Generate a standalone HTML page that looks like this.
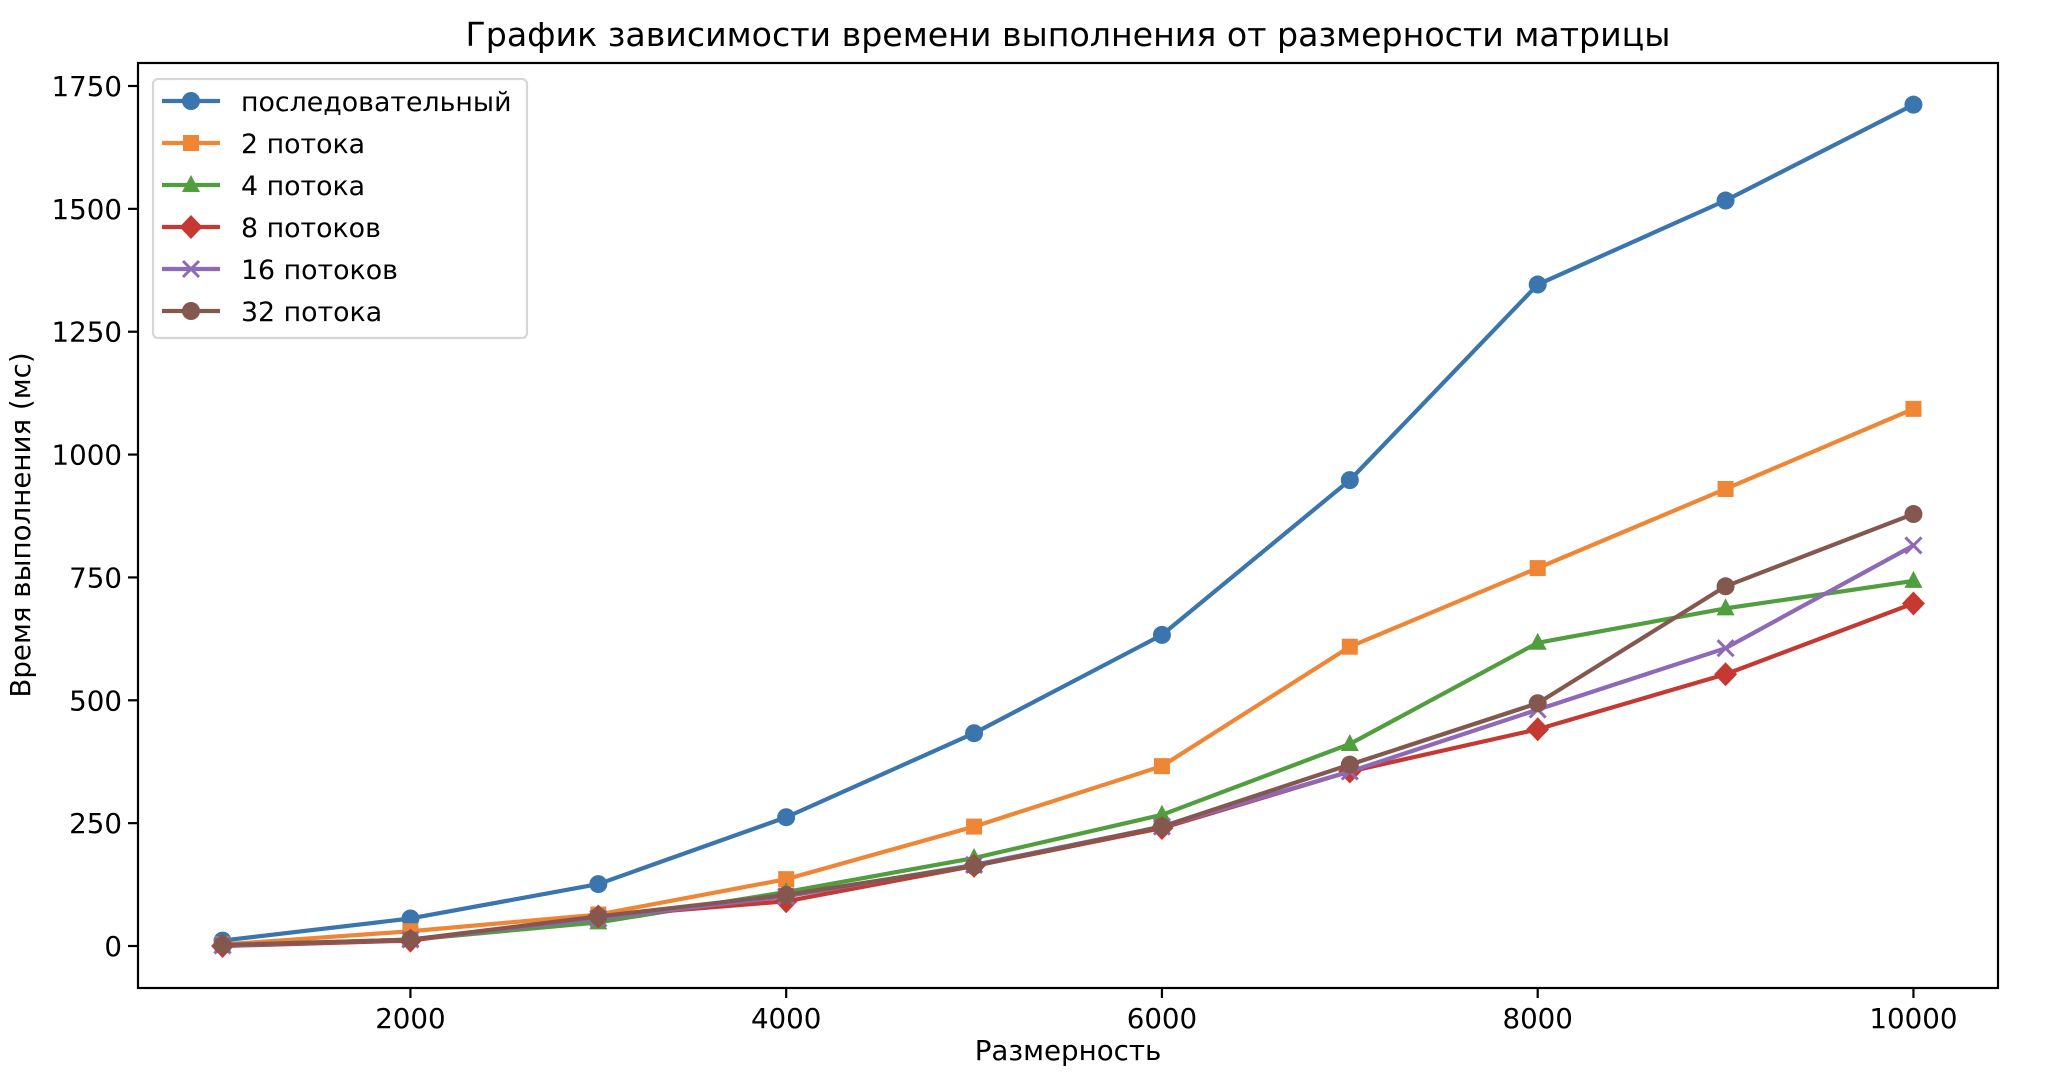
<!DOCTYPE html>
<html><head><meta charset="utf-8">
<style>
html,body{margin:0;padding:0;background:#fff;}
svg{display:block;font-family:"DejaVu Sans","Liberation Sans",sans-serif;}
</style></head>
<body>
<svg id="chart" width="2058" height="1080" viewBox="0 0 2058 1080" xmlns="http://www.w3.org/2000/svg">
<rect x="0" y="0" width="2058" height="1080" fill="#fff"/>
<text x="1068" y="46" font-size="33.2" text-anchor="middle">График зависимости времени выполнения от размерности матрицы</text>
<g id="plot"></g>
<g id="axes"></g>
<g id="legend"></g>
<text x="1068" y="1060" font-size="27.7" text-anchor="middle">Размерность</text>
<text transform="translate(30,525) rotate(-90)" font-size="27.7" text-anchor="middle">Время выполнения (мс)</text>
</svg>
<script>
const sizes = [1000,2000,3000,4000,5000,6000,7000,8000,9000,10000];
const seqVals = [11,56,126,262,433,633,948,1346,1517,1712];
const t2Vals = [3,30,64,136,243,366,609,769,930,1093];
const t4Vals = [0,13,48,110,179,267,411,617,687,743];
const t8Vals = [0,11,60,91,163,240,355,441,553,697];
const t16Vals = [1,13,56,101,165,243,355,481,606,815];
const t32Vals = [2,13,60,104,163,243,369,494,732,879];
const seriesNames = ["последовательный","2 потока","4 потока","8 потоков","16 потоков","32 потока"];
const xTicks = [2000,4000,6000,8000,10000];
const yTicks = [0,250,500,750,1000,1250,1500,1750];

const NS="http://www.w3.org/2000/svg";
const L=138,R=1998,T=63,B=988;
const xMin=550,xMax=10450;
const y0=946, yPer=(946-86)/1750;
function xs(v){return L+(v-xMin)/(xMax-xMin)*(R-L);}
function ys(v){return y0-v*yPer;}
function mk(tag,attrs,parent){const e=document.createElementNS(NS,tag);for(const k in attrs)e.setAttribute(k,attrs[k]);parent.appendChild(e);return e;}

const series=[
 {vals:seqVals,color:"#3a75ae",m:"circle",key:"sequential"},
 {vals:t2Vals,color:"#ef8636",m:"square",key:"2-threads"},
 {vals:t4Vals,color:"#519e3e",m:"triangle",key:"4-threads"},
 {vals:t8Vals,color:"#c53932",m:"diamond",key:"8-threads"},
 {vals:t16Vals,color:"#8d69b8",m:"x",key:"16-threads"},
 {vals:t32Vals,color:"#84584e",m:"circle",key:"32-threads"}
];
function marker(type,cx,cy,color,parent){
  let e;
  if(type==="circle"){e=mk("circle",{cx:cx,cy:cy,r:9,fill:color},parent);}
  else if(type==="square"){e=mk("rect",{x:cx-8,y:cy-8,width:16,height:16,fill:color},parent);}
  else if(type==="triangle"){e=mk("polygon",{points:`${cx},${cy-10} ${cx+9},${cy+7} ${cx-9},${cy+7}`,fill:color},parent);}
  else if(type==="diamond"){e=mk("polygon",{points:`${cx},${cy-12} ${cx+11.5},${cy} ${cx},${cy+12} ${cx-11.5},${cy}`,fill:color},parent);}
  else {e=mk("path",{d:`M${cx-8},${cy-8}L${cx+8},${cy+8}M${cx-8},${cy+8}L${cx+8},${cy-8}`,stroke:color,"stroke-width":3,fill:"none"},parent);}
  return e;
}
const plot=document.getElementById("plot");
series.forEach((s,si)=>{
  const g=mk("g",{},plot);
  
  
  const pts=s.vals.map((v,i)=>xs(sizes[i])+","+ys(v)).join(" ");
  const line=mk("polyline",{points:pts,fill:"none",stroke:s.color,"stroke-width":4.2,"stroke-linejoin":"round","stroke-linecap":"square"},g);
  
  
  s.vals.forEach((v,i)=>{
    const m=marker(s.m,xs(sizes[i]),ys(v),s.color,g);
    
    
  });
});
const axes=document.getElementById("axes");
const frame=mk("rect",{x:L,y:T,width:R-L,height:B-T,fill:"none",stroke:"#000","stroke-width":2.2},axes);


xTicks.forEach(v=>{
  const x=xs(v);
  mk("line",{x1:x,y1:B,x2:x,y2:B+10,stroke:"#000","stroke-width":2.2},axes);
  const t=mk("text",{x:x,y:1028,"font-size":27.7,"text-anchor":"middle"},axes);
  t.textContent=v;
  
  
});
yTicks.forEach(v=>{
  const y=ys(v);
  mk("line",{x1:L-10,y1:y,x2:L,y2:y,stroke:"#000","stroke-width":2.2},axes);
  const t=mk("text",{x:L-16,y:y+10,"font-size":27.7,"text-anchor":"end"},axes);
  t.textContent=v;
  
  
});
const leg=document.getElementById("legend");


mk("rect",{x:153,y:79,width:374,height:259,rx:5,fill:"#fff","fill-opacity":0.8,stroke:"#d6d6d6","stroke-width":2.2},leg);
series.forEach((s,i)=>{
  const y=101+i*42;
  const g=mk("g",{},leg);
  
  
  mk("line",{x1:162,y1:y,x2:220,y2:y,stroke:s.color,"stroke-width":4.2},g);
  marker(s.m,191,y,s.color,g);
  const t=mk("text",{x:241,y:y+10,"font-size":26.8},g);
  t.textContent=seriesNames[i];
});
</script>
</body></html>
